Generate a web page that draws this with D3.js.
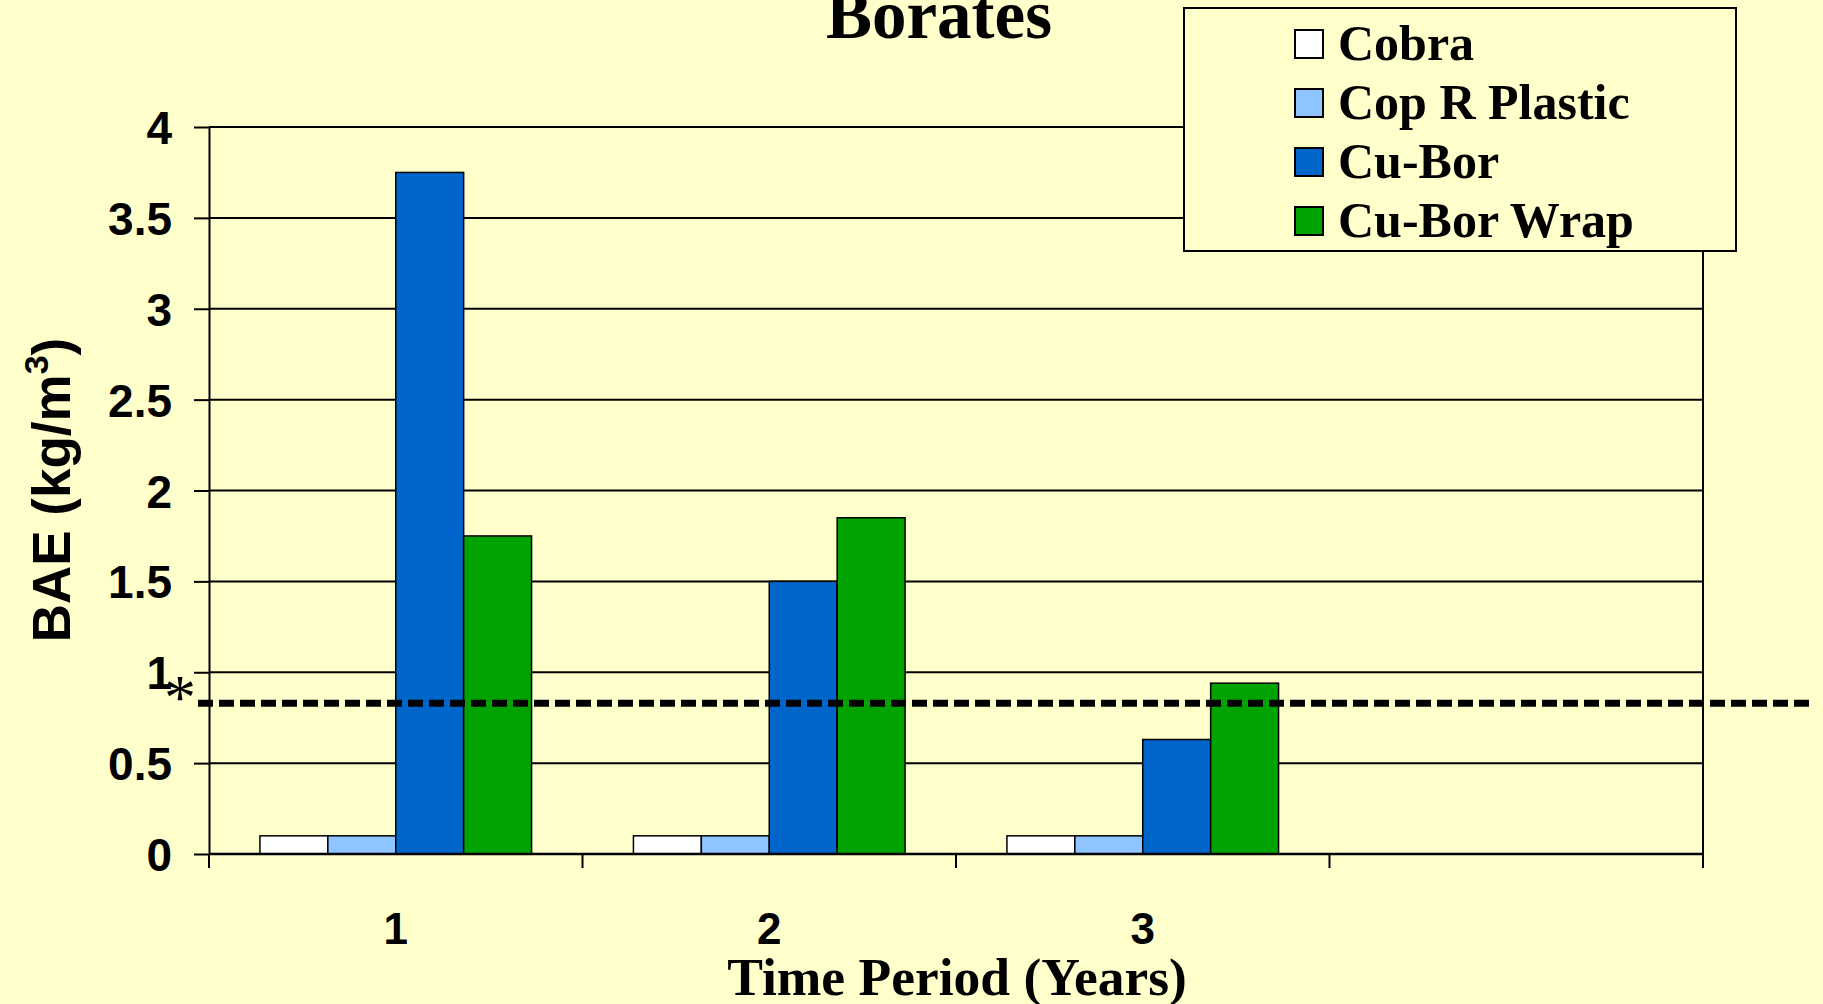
<!DOCTYPE html>
<html>
<head>
<meta charset="utf-8">
<script src="https://cdn.jsdelivr.net/npm/d3@7"></script>
<style>
  html, body { margin: 0; padding: 0; background: #ffffcc; overflow: hidden; }
  svg { display: block; }
</style>
</head>
<body>
<div id="chart"></div>
<script>
var width = 1823
var height = 1004

// donnees
var periods = ['1', '2', '3', '']
var seriesNames = ['Cobra', 'Cop R Plastic', 'Cu-Bor', 'Cu-Bor Wrap']
var cobra = [0.1, 0.1, 0.1]
var copR = [0.1, 0.1, 0.1]
var cuBor = [3.75, 1.5, 0.63]
var cuBorWrap = [1.75, 1.85, 0.94]
var threshold = 0.83
var yTicks = [0, 0.5, 1, 1.5, 2, 2.5, 3, 3.5, 4]
var colors = ['#ffffff', '#8ec4ff', '#0066cc', '#00a300']

var values = [cobra, copR, cuBor, cuBorWrap]

var margin = { left: 209, right: 120, top: 127, bottom: 150 }

var svg = d3.select('#chart').append('svg')
    .attr('width', width)
    .attr('height', height)

svg.append('rect').attr('width', width).attr('height', height).attr('fill', '#ffffcc')

var x0 = d3.scaleBand()
    .domain(periods)
    .range([margin.left, width - margin.right])
    .paddingInner(0).paddingOuter(0)

var x1 = d3.scaleBand()
    .domain(seriesNames)
    .range([0, x0.bandwidth()])
    .paddingInner(0).paddingOuter(0.75)

var y = d3.scaleLinear()
    .domain([0, 4])
    .range([height - margin.bottom, margin.top])

var xRight = x0.range()[1]

// grille horizontale
svg.append('g').selectAll('line')
    .data(yTicks.filter(function (d) { return d > 0 }))
    .enter().append('line')
    .attr('x1', margin.left).attr('x2', xRight)
    .attr('y1', function (d) { return y(d) }).attr('y2', function (d) { return y(d) })
    .attr('stroke', '#000').attr('stroke-width', 2)

// bordure droite
svg.append('line')
    .attr('x1', xRight).attr('x2', xRight)
    .attr('y1', y(4)).attr('y2', y(0))
    .attr('stroke', '#000').attr('stroke-width', 2)

// axe Y
var yAxis = svg.append('g')
    .attr('transform', 'translate(' + margin.left + ',0)')
    .call(d3.axisLeft(y).tickValues(yTicks).tickSize(15).tickSizeOuter(0).tickPadding(22)
        .tickFormat(function (d) { return String(d) }))
yAxis.select('.domain').attr('stroke-width', 2)
yAxis.selectAll('.tick line').attr('stroke-width', 2)
yAxis.selectAll('.tick text')
    .attr('font-family', 'Liberation Sans, Arial, sans-serif')
    .attr('font-weight', 'bold')
    .attr('font-size', 46)
    .attr('fill', '#000')
    .attr('dy', '0.36em')

// barres
var groups = svg.append('g').selectAll('g')
    .data(periods.slice(0, 3))
    .enter().append('g')
    .attr('transform', function (d) { return 'translate(' + x0(d) + ',0)' })

groups.selectAll('rect')
    .data(function (d, i) {
        return seriesNames.map(function (s, j) { return { name: s, value: values[j][i], color: colors[j] } })
    })
    .enter().append('rect')
    .attr('x', function (d) { return x1(d.name) })
    .attr('width', x1.bandwidth())
    .attr('y', function (d) { return y(d.value) })
    .attr('height', function (d) { return y(0) - y(d.value) })
    .attr('fill', function (d) { return d.color })
    .attr('stroke', '#000')
    .attr('stroke-width', 1.5)

// axe X
svg.append('line')
    .attr('x1', margin.left).attr('x2', xRight)
    .attr('y1', y(0)).attr('y2', y(0))
    .attr('stroke', '#000').attr('stroke-width', 2.5)

var bounds = periods.map(function (d) { return x0(d) }).concat([xRight])
svg.append('g').selectAll('line')
    .data(bounds)
    .enter().append('line')
    .attr('x1', function (d) { return d }).attr('x2', function (d) { return d })
    .attr('y1', y(0)).attr('y2', y(0) + 14)
    .attr('stroke', '#000').attr('stroke-width', 2)

svg.append('g').selectAll('text')
    .data(periods)
    .enter().append('text')
    .attr('x', function (d) { return x0(d) + x0.bandwidth() / 2 })
    .attr('y', 944)
    .attr('text-anchor', 'middle')
    .attr('font-family', 'Liberation Sans, Arial, sans-serif')
    .attr('font-weight', 'bold')
    .attr('font-size', 44)
    .text(function (d) { return d })

// ligne seuil en pointilles
svg.append('line')
    .attr('x1', 198).attr('x2', 1814)
    .attr('y1', y(threshold)).attr('y2', y(threshold))
    .attr('stroke', '#000')
    .attr('stroke-width', 7)
    .attr('stroke-dasharray', '15,6')

svg.append('text')
    .attr('x', 180).attr('y', 719)
    .attr('text-anchor', 'middle')
    .attr('font-family', 'Liberation Serif, Times New Roman, serif')
    .attr('font-size', 64)
    .text('*')

// titres
svg.append('text')
    .attr('x', 939).attr('y', 38)
    .attr('text-anchor', 'middle')
    .attr('font-family', 'Liberation Serif, Times New Roman, serif')
    .attr('font-weight', 'bold')
    .attr('font-size', 69)
    .text('Borates')

svg.append('text')
    .attr('x', 957).attr('y', 995)
    .attr('text-anchor', 'middle')
    .attr('font-family', 'Liberation Serif, Times New Roman, serif')
    .attr('font-weight', 'bold')
    .attr('font-size', 53.5)
    .text('Time Period (Years)')

var yLabel = svg.append('text')
    .attr('transform', 'translate(70,490) rotate(-90)')
    .attr('text-anchor', 'middle')
    .attr('font-family', 'Liberation Sans, Arial, sans-serif')
    .attr('font-weight', 'bold')
    .attr('font-size', 53)
yLabel.append('tspan').text('BAE (kg/m')
yLabel.append('tspan').attr('font-size', 34).attr('dy', -22).text('3')
yLabel.append('tspan').attr('dy', 22).text(')')

// legende
var legend = svg.append('g')
legend.append('rect')
    .attr('x', 1184).attr('y', 8)
    .attr('width', 552).attr('height', 243)
    .attr('fill', '#ffffcc')
    .attr('stroke', '#000').attr('stroke-width', 2)

var items = legend.selectAll('g.item')
    .data(seriesNames)
    .enter().append('g')
    .attr('class', 'item')
    .attr('transform', function (d, i) { return 'translate(1295,' + (30 + i * 59) + ')' })

items.append('rect')
    .attr('width', 28).attr('height', 28)
    .attr('fill', function (d, i) { return colors[i] })
    .attr('stroke', '#000').attr('stroke-width', 2)

items.append('text')
    .attr('x', 43).attr('y', 30)
    .attr('font-family', 'Liberation Serif, Times New Roman, serif')
    .attr('font-weight', 'bold')
    .attr('font-size', 50)
    .text(function (d) { return d })
</script>
</body>
</html>
